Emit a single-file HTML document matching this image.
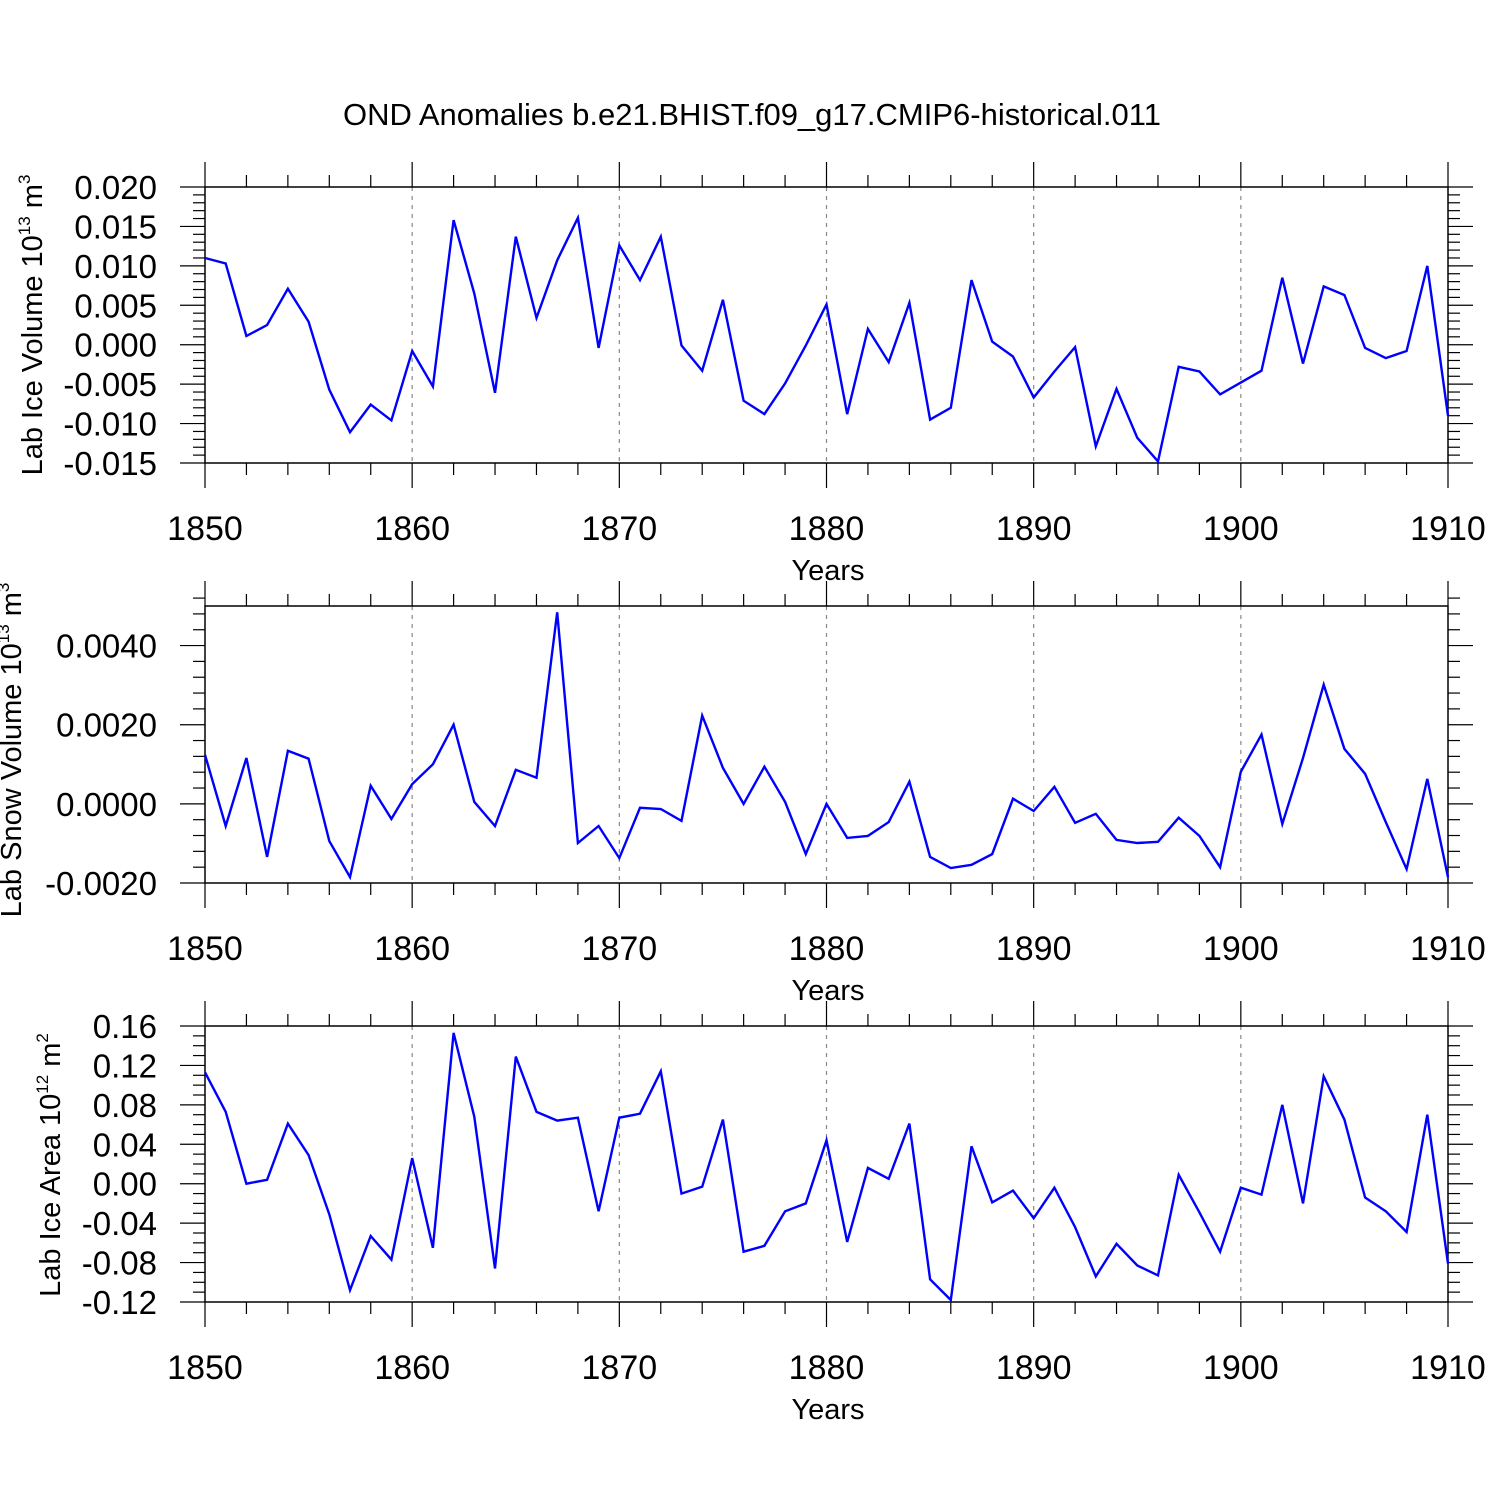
<!DOCTYPE html>
<html><head><meta charset="utf-8"><style>
html,body{margin:0;padding:0;background:#fff}
svg text{font-family:"Liberation Sans",Helvetica,Arial,sans-serif;fill:#000}
</style></head><body>
<svg id="chart" width="1500" height="1500" viewBox="0 0 1500 1500" xmlns="http://www.w3.org/2000/svg">
<rect width="1500" height="1500" fill="#fff"/>
<text x="752" y="125" font-size="31" text-anchor="middle">OND Anomalies b.e21.BHIST.f09_g17.CMIP6-historical.011</text>
<g id="plots"></g>
</svg>
<script>
const years = [];
for (let y = 1850; y <= 1910; y++) years.push(y);
const xTickLabels = ["1850","1860","1870","1880","1890","1900","1910"];

const iceVolume = [0.011,0.0103,0.0011,0.0025,0.0071,0.0029,-0.0057,-0.0111,-0.0076,-0.0096,-0.0008,-0.0053,0.0158,0.0065,-0.0061,0.0137,0.0034,0.0107,0.0161,-0.0004,0.0126,0.0082,0.0137,-0.0001,-0.0033,0.0057,-0.0071,-0.0088,-0.0049,-0.0001,0.0051,-0.0088,0.002,-0.0022,0.0053,-0.0095,-0.008,0.0082,0.0004,-0.0015,-0.0067,-0.0034,-0.0003,-0.0129,-0.0056,-0.0118,-0.0148,-0.0028,-0.0034,-0.0063,-0.0048,-0.0033,0.0085,-0.0024,0.0074,0.0063,-0.0004,-0.0017,-0.0008,0.01,-0.009];
const snowVolume = [0.00124,-0.00056,0.00116,-0.00134,0.00134,0.00114,-0.00094,-0.00185,0.00046,-0.00038,0.0005,0.001,0.002,0.00005,-0.00056,0.00086,0.00066,0.00484,-0.00099,-0.00056,-0.00137,-0.0001,-0.00013,-0.00043,0.00223,0.00091,0,0.00094,0.00005,-0.00127,0,-0.00086,-0.00081,-0.00046,0.00056,-0.00134,-0.00162,-0.00154,-0.00127,0.00013,-0.00018,0.00043,-0.00048,-0.00025,-0.00091,-0.00099,-0.00096,-0.00035,-0.00081,-0.0016,0.00081,0.00175,-0.00051,0.00116,0.00301,0.00139,0.00076,-0.00046,-0.00165,0.00063,-0.00185];
const iceArea = [0.113,0.073,0,0.004,0.061,0.029,-0.031,-0.108,-0.053,-0.077,0.026,-0.065,0.153,0.068,-0.086,0.129,0.073,0.064,0.067,-0.028,0.067,0.071,0.114,-0.01,-0.003,0.065,-0.069,-0.063,-0.028,-0.02,0.044,-0.059,0.016,0.005,0.061,-0.097,-0.118,0.038,-0.019,-0.007,-0.035,-0.004,-0.044,-0.094,-0.061,-0.083,-0.093,0.009,-0.029,-0.069,-0.004,-0.011,0.08,-0.02,0.109,0.065,-0.014,-0.028,-0.049,0.07,-0.081];

const iceVolTicks = [0.020,0.015,0.010,0.005,0.000,-0.005,-0.010,-0.015];
const iceVolTickLabels = ["0.020","0.015","0.010","0.005","0.000","-0.005","-0.010","-0.015"];
const snowTicks = [0.004,0.002,0,-0.002];
const snowTickLabels = ["0.0040","0.0020","0.0000","-0.0020"];
const areaTicks = [0.16,0.12,0.08,0.04,0,-0.04,-0.08,-0.12];
const areaTickLabels = ["0.16","0.12","0.08","0.04","0.00","-0.04","-0.08","-0.12"];

const NS = "http://www.w3.org/2000/svg";
const root = document.getElementById("plots");
function mk(tag, attrs, parent) {
  const e = document.createElementNS(NS, tag);
  for (const k in attrs) e.setAttribute(k, attrs[k]);
  (parent || root).appendChild(e);
  return e;
}
const X0 = 205, X1 = 1448;
const xScale = y => X0 + (y - 1850) / 60 * (X1 - X0);

function panel(cfg) {
  const g = mk("g", {});
  
  
  const yScale = v => cfg.top + (cfg.ymax - v) / (cfg.ymax - cfg.ymin) * (cfg.bot - cfg.top);
  for (let yr = 1860; yr <= 1900; yr += 10) {
    const l = mk("line", {x1: xScale(yr), x2: xScale(yr), y1: cfg.top, y2: cfg.bot, stroke: "#888", "stroke-width": 1.2, "stroke-dasharray": "4,5"}, g);
    
    
  }
  const fr = mk("rect", {x: X0, y: cfg.top, width: X1 - X0, height: cfg.bot - cfg.top, fill: "none", stroke: "#000", "stroke-width": 1.5}, g);
  
  
  for (let yr = 1850; yr <= 1910; yr += 2) {
    const major = yr % 10 === 0;
    const len = major ? 25 : 12;
    mk("line", {x1: xScale(yr), x2: xScale(yr), y1: cfg.top - len, y2: cfg.top, stroke: "#000", "stroke-width": 1.2}, g);
    mk("line", {x1: xScale(yr), x2: xScale(yr), y1: cfg.bot, y2: cfg.bot + len, stroke: "#000", "stroke-width": 1.2}, g);
  }
  xTickLabels.forEach(lbl => {
    const t = mk("text", {x: xScale(+lbl), y: cfg.bot + 77, "font-size": 34, "text-anchor": "middle"}, g);
    t.textContent = lbl;
    
    
  });
  const xt = mk("text", {x: 828, y: cfg.bot + 117, "font-size": 29, "text-anchor": "middle"}, g);
  xt.textContent = "Years";
  
  
  const step = cfg.minor;
  const n = Math.round((cfg.ymax - cfg.ymin) / step);
  for (let i = 0; i <= n; i++) {
    const v = cfg.ymin + i * step;
    const yy = yScale(v);
    const isMajor = cfg.ticks.some(t => Math.abs(t - v) < step / 10);
    const len = isMajor ? 25 : 12;
    mk("line", {x1: X0 - len, x2: X0, y1: yy, y2: yy, stroke: "#000", "stroke-width": 1.2}, g);
    mk("line", {x1: X1, x2: X1 + len, y1: yy, y2: yy, stroke: "#000", "stroke-width": 1.2}, g);
  }
  cfg.ticks.forEach((v, i) => {
    const t = mk("text", {x: 157, y: yScale(v) + 12, "font-size": 33, "text-anchor": "end"}, g);
    t.textContent = cfg.tickLabels[i];
    
    
  });
  const yt = mk("text", {x: 0, y: 0, "font-size": 29, "text-anchor": "middle", transform: `translate(${cfg.tx},${cfg.ty}) rotate(-90)`}, g);
  
  
  const s1 = mk("tspan", {}, yt); s1.textContent = cfg.title + " 10";
  const s2 = mk("tspan", {dy: -12, "font-size": 17}, yt); s2.textContent = cfg.exp;
  const s3 = mk("tspan", {dy: 12}, yt); s3.textContent = " m";
  const s4 = mk("tspan", {dy: -12, "font-size": 17}, yt); s4.textContent = cfg.unitExp;
  const pts = cfg.data.map((v, i) => xScale(years[i]).toFixed(1) + "," + yScale(v).toFixed(1)).join(" ");
  const pl = mk("polyline", {points: pts, fill: "none", stroke: "#0000ff", "stroke-width": 2.4, "stroke-linejoin": "miter"}, g);
  
  
}

panel({name: "ice-volume-panel", top: 187, bot: 463, ymin: -0.015, ymax: 0.020, minor: 0.001, ticks: iceVolTicks, tickLabels: iceVolTickLabels, data: iceVolume, title: "Lab Ice Volume", exp: "13", unitExp: "3", tx: 42, ty: 325});
panel({name: "snow-volume-panel", top: 606, bot: 883, ymin: -0.002, ymax: 0.005, minor: 0.0004, ticks: snowTicks, tickLabels: snowTickLabels, data: snowVolume, title: "Lab Snow Volume", exp: "13", unitExp: "3", tx: 21, ty: 750});
panel({name: "ice-area-panel", top: 1026, bot: 1302, ymin: -0.12, ymax: 0.16, minor: 0.01, ticks: areaTicks, tickLabels: areaTickLabels, data: iceArea, title: "Lab Ice Area", exp: "12", unitExp: "2", tx: 60, ty: 1165});
</script>
</body></html>
